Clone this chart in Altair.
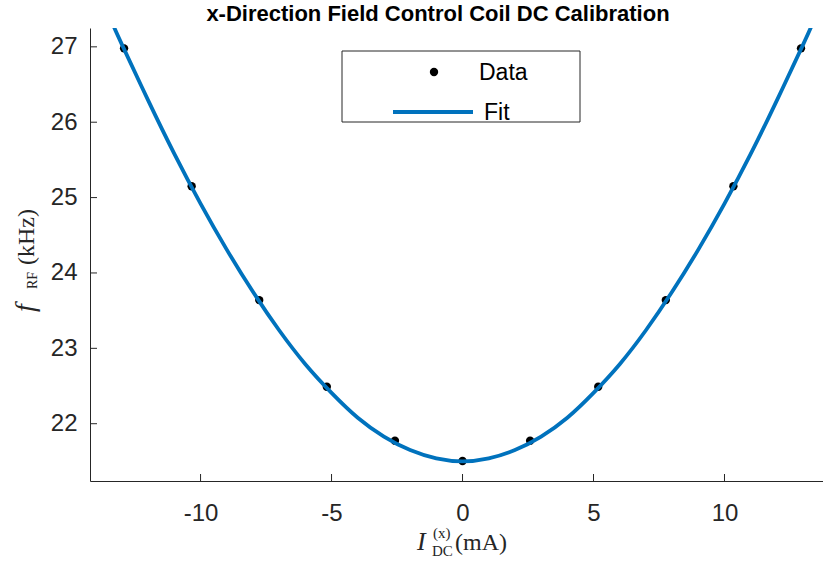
import altair as alt
import pandas as pd

current_ma = [-12.92, -10.34, -7.76, -5.18, -2.58, 0.0, 2.58, 5.18, 7.76, 10.34, 12.92]
freq_khz = [26.98, 25.15, 23.64, 22.49, 21.775, 21.505, 21.775, 22.49, 23.64, 25.15, 26.98]

# Fit curve
fit_current = [-13.3, -13, -12, -11, -10, -9, -8, -7, -6, -5, -4, -3, -2, -1, 0,
               1, 2, 3, 4, 5, 6, 7, 8, 9, 10, 11, 12, 13, 13.3]
fit_freq = [27.26, 27.03, 26.29, 25.58, 24.92, 24.31, 23.75, 23.24, 22.79, 22.41, 22.08,
            21.83, 21.65, 21.54, 21.50, 21.54, 21.65, 21.83, 22.08, 22.41, 22.79, 23.24,
            23.75, 24.31, 24.92, 25.58, 26.29, 27.03, 27.26]

y_ticks = [22, 23, 24, 25, 26, 27]
x_ticks = [-10, -5, 0, 5, 10]

title_text = "x-Direction Field Control Coil DC Calibration"

X_DOMAIN = [-14.22, 13.76]
Y_DOMAIN = [21.24, 27.25]
W, H = 733, 453
AX = "#262626"
BLUE = "#0072BD"

pts = pd.DataFrame({"x": current_ma, "y": freq_khz})
fit = pd.DataFrame({"x": fit_current, "y": fit_freq})
yt = pd.DataFrame({"y": y_ticks})
xt = pd.DataFrame({"x": x_ticks})
one = pd.DataFrame({"k": [0]})

xenc = alt.X("x:Q", scale=alt.Scale(domain=X_DOMAIN, nice=False, zero=False),
             axis=alt.Axis(title=None, values=x_ticks, ticks=False, tickSize=0,
                           labelBaseline="alphabetic", labelPadding=39,
                           labelExpr="'' + datum.value", grid=False))
yenc = alt.Y("y:Q", scale=alt.Scale(domain=Y_DOMAIN, nice=False, zero=False),
             axis=alt.Axis(title=None, values=y_ticks, ticks=False, tickSize=0,
                           labelPadding=13, labelBaseline="middle",
                           labelExpr="'' + datum.value", grid=False))

points = alt.Chart(pts).mark_circle(size=70, color="black", opacity=1).encode(x=xenc, y=yenc)
line = alt.Chart(fit).mark_line(color=BLUE, strokeWidth=3.8, interpolate="natural", clip=True).encode(
    x=alt.X("x:Q"), y=alt.Y("y:Q"))

ytick_rules = alt.Chart(yt).mark_rule(color=AX, strokeWidth=1).encode(
    y=alt.Y("y:Q"), x=alt.value(0), x2=alt.value(7))
xtick_rules = alt.Chart(xt).mark_rule(color=AX, strokeWidth=1).encode(
    x=alt.X("x:Q"), y=alt.value(H), y2=alt.value(H - 7))

# Legend
leg_box = alt.Chart(one).mark_rect(fill="white", stroke=AX, strokeWidth=1).encode(
    x=alt.value(252), x2=alt.value(490), y=alt.value(23), y2=alt.value(94))
leg_dot = alt.Chart(one).mark_circle(size=70, color="black", opacity=1).encode(
    x=alt.value(344), y=alt.value(44))
leg_line = alt.Chart(one).mark_rule(color=BLUE, strokeWidth=3.8).encode(
    x=alt.value(303), x2=alt.value(383), y=alt.value(84))
leg_data = alt.Chart(one).mark_text(text="Data", font="Liberation Sans", fontSize=23,
                                    color="black", align="left", baseline="middle").encode(
    x=alt.value(389), y=alt.value(45))
leg_fit = alt.Chart(one).mark_text(text="Fit", font="Liberation Sans", fontSize=23,
                                   color="black", align="left", baseline="middle").encode(
    x=alt.value(394), y=alt.value(85))

# Title
title = alt.Chart(one).mark_text(text=title_text, font="Liberation Sans", fontSize=22,
                                 fontWeight="bold", color="black", align="center",
                                 baseline="alphabetic").encode(x=alt.value(348), y=alt.value(-7))

SERIF = "Liberation Serif"
# x-axis label pieces: I_DC^(x) (mA)
xl_I = alt.Chart(one).mark_text(text="I", font=SERIF, fontSize=26, fontStyle="italic",
                                color=AX, align="left", baseline="alphabetic").encode(
    x=alt.value(327), y=alt.value(522))
xl_sup = alt.Chart(one).mark_text(text="(x)", font=SERIF, fontSize=15, color=AX,
                                  align="left", baseline="alphabetic").encode(
    x=alt.value(343), y=alt.value(510))
xl_sub = alt.Chart(one).mark_text(text="DC", font=SERIF, fontSize=15, color=AX,
                                  align="left", baseline="alphabetic").encode(
    x=alt.value(342), y=alt.value(528))
xl_unit = alt.Chart(one).mark_text(text="(mA)", font=SERIF, fontSize=24, color=AX,
                                   align="left", baseline="alphabetic").encode(
    x=alt.value(365), y=alt.value(522))

# y-axis label pieces: f_RF (kHz), rotated
yl_f = alt.Chart(one).mark_text(text="f", font=SERIF, fontSize=28, fontStyle="italic", angle=270,
                                color=AX, align="left", baseline="alphabetic").encode(
    x=alt.value(-56), y=alt.value(284))
yl_sub = alt.Chart(one).mark_text(text="RF", font=SERIF, fontSize=14, angle=270,
                                  color=AX, align="left", baseline="alphabetic").encode(
    x=alt.value(-53), y=alt.value(261))
yl_unit = alt.Chart(one).mark_text(text="(kHz)", font=SERIF, fontSize=24, angle=270,
                                   color=AX, align="left", baseline="alphabetic").encode(
    x=alt.value(-56), y=alt.value(237))

chart = alt.layer(
    points, line, ytick_rules, xtick_rules,
    leg_box, leg_dot, leg_line, leg_data, leg_fit,
    title, xl_I, xl_sup, xl_sub, xl_unit, yl_f, yl_sub, yl_unit,
).properties(
    width=W, height=H,
    padding={"left": 90, "top": 28, "right": 0, "bottom": 86},
    autosize=alt.AutoSizeParams(type="none"),
    background="white",
).configure_view(stroke=None).configure_axis(
    domainColor=AX, domainWidth=1, labelColor=AX, labelFont="Liberation Sans",
    labelFontSize=24,
)

chart.save("out.html", embed_options={"renderer": "svg", "actions": False})
